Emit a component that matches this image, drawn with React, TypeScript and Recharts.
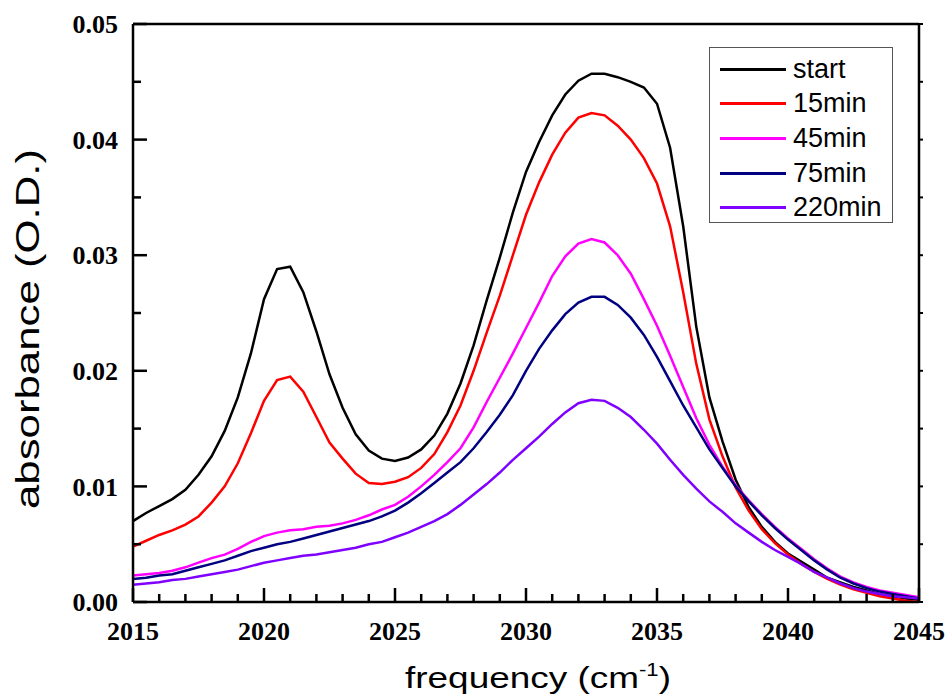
import React from 'react';
import { LineChart, Line, XAxis, YAxis, Legend } from 'recharts';

// wavenumber grid (cm-1)
const FREQ = [
  2015, 2015.5, 2016, 2016.5, 2017, 2017.5, 2018, 2018.5, 2019, 2019.5,
  2020, 2020.5, 2021, 2021.5, 2022, 2022.5, 2023, 2023.5, 2024, 2024.5,
  2025, 2025.5, 2026, 2026.5, 2027, 2027.5, 2028, 2028.5, 2029, 2029.5,
  2030, 2030.5, 2031, 2031.5, 2032, 2032.5, 2033, 2033.5, 2034, 2034.5,
  2035, 2035.5, 2036, 2036.5, 2037, 2037.5, 2038, 2038.5, 2039, 2039.5,
  2040, 2040.5, 2041, 2041.5, 2042, 2042.5, 2043, 2043.5, 2044, 2044.5,
  2045,
];

const START = [
  0.0070, 0.0077, 0.0083, 0.0089, 0.0097, 0.0110, 0.0126, 0.0148, 0.0177, 0.0215,
  0.0262, 0.0288, 0.0290, 0.0268, 0.0234, 0.0197, 0.0168, 0.0145, 0.0131, 0.0124,
  0.0122, 0.0125, 0.0132, 0.0144, 0.0163, 0.0189, 0.0222, 0.0261, 0.0298, 0.0337,
  0.0372, 0.0398, 0.0421, 0.0439, 0.0451, 0.0457, 0.0457, 0.0454, 0.0450, 0.0445,
  0.0431, 0.0393, 0.0325, 0.0238, 0.0177, 0.0139, 0.0106, 0.0082, 0.0065, 0.0052,
  0.0042, 0.0035, 0.0028, 0.0021, 0.0017, 0.0013, 0.0010, 0.0007, 0.0005, 0.0003,
  0.0002,
];

const MIN15 = [
  0.0048, 0.0053, 0.0058, 0.0062, 0.0067, 0.0074, 0.0086, 0.0100, 0.0120, 0.0146,
  0.0174, 0.0192, 0.0195, 0.0182, 0.0160, 0.0138, 0.0124, 0.0111, 0.0103, 0.0102,
  0.0104, 0.0108, 0.0116, 0.0128, 0.0147, 0.0170, 0.0200, 0.0233, 0.0265, 0.0300,
  0.0335, 0.0363, 0.0387, 0.0406, 0.0419, 0.0423, 0.0421, 0.0412, 0.0400, 0.0384,
  0.0362, 0.0325, 0.0268, 0.0206, 0.0158, 0.0126, 0.0099, 0.0079, 0.0063, 0.0051,
  0.0041, 0.0033, 0.0026, 0.0020, 0.0015, 0.0011, 0.0008, 0.0005, 0.0003, 0.0001,
  0.0000,
];

const MIN45 = [
  0.0023, 0.0024, 0.0025, 0.0027, 0.0030, 0.0034, 0.0038, 0.0041, 0.0046, 0.0052,
  0.0057, 0.0060, 0.0062, 0.0063, 0.0065, 0.0066, 0.0068, 0.0071, 0.0075, 0.0080,
  0.0084, 0.0091, 0.0100, 0.0110, 0.0121, 0.0133, 0.0151, 0.0173, 0.0194, 0.0215,
  0.0237, 0.0259, 0.0282, 0.0299, 0.0310, 0.0314, 0.0311, 0.0300, 0.0284, 0.0262,
  0.0239, 0.0213, 0.0186, 0.0159, 0.0136, 0.0117, 0.0101, 0.0088, 0.0076, 0.0065,
  0.0055, 0.0046, 0.0037, 0.0029, 0.0022, 0.0017, 0.0013, 0.0010, 0.0008, 0.0006,
  0.0004,
];

const MIN75 = [
  0.0020, 0.0021, 0.0023, 0.0024, 0.0027, 0.0030, 0.0033, 0.0036, 0.0040, 0.0044,
  0.0047, 0.0050, 0.0052, 0.0055, 0.0058, 0.0061, 0.0064, 0.0067, 0.0070, 0.0074,
  0.0079, 0.0086, 0.0094, 0.0103, 0.0112, 0.0121, 0.0133, 0.0147, 0.0162, 0.0179,
  0.0200, 0.0219, 0.0235, 0.0249, 0.0259, 0.0264, 0.0264, 0.0257, 0.0246, 0.0231,
  0.0212, 0.0191, 0.0170, 0.0151, 0.0132, 0.0116, 0.0100, 0.0087, 0.0075, 0.0064,
  0.0054, 0.0045, 0.0036, 0.0028, 0.0021, 0.0016, 0.0012, 0.0009, 0.0007, 0.0005,
  0.0003,
];

const MIN220 = [
  0.0015, 0.0016, 0.0017, 0.0019, 0.0020, 0.0022, 0.0024, 0.0026, 0.0028, 0.0031,
  0.0034, 0.0036, 0.0038, 0.0040, 0.0041, 0.0043, 0.0045, 0.0047, 0.0050, 0.0052,
  0.0056, 0.0060, 0.0065, 0.0070, 0.0076, 0.0084, 0.0093, 0.0102, 0.0112, 0.0123,
  0.0133, 0.0143, 0.0154, 0.0164, 0.0172, 0.0175, 0.0174, 0.0168, 0.0160, 0.0149,
  0.0137, 0.0123, 0.0110, 0.0098, 0.0087, 0.0078, 0.0068, 0.0060, 0.0052, 0.0045,
  0.0039, 0.0033, 0.0026, 0.0021, 0.0016, 0.0012, 0.0009, 0.0007, 0.0005, 0.0004,
  0.0003,
];

const SERIES = [
  { key: 'start', name: 'start', color: '#000000', values: START },
  { key: 'm15', name: '15min', color: '#ff0000', values: MIN15 },
  { key: 'm45', name: '45min', color: '#ff00ff', values: MIN45 },
  { key: 'm75', name: '75min', color: '#000080', values: MIN75 },
  { key: 'm220', name: '220min', color: '#8000ff', values: MIN220 },
];

const X_MAJOR = [2015, 2020, 2025, 2030, 2035, 2040, 2045];
const X_MINOR = [
  2015, 2016, 2017, 2018, 2019, 2020, 2021, 2022, 2023, 2024, 2025, 2026, 2027, 2028, 2029, 2030,
  2031, 2032, 2033, 2034, 2035, 2036, 2037, 2038, 2039, 2040, 2041, 2042, 2043, 2044, 2045,
];
const Y_MAJOR = [0, 0.01, 0.02, 0.03, 0.04, 0.05];
const Y_MINOR = [0, 0.005, 0.01, 0.015, 0.02, 0.025, 0.03, 0.035, 0.04, 0.045, 0.05];
const X_DOMAIN = [2015, 2045];
const Y_DOMAIN = [0, 0.05];

const data = FREQ.map((f, i) => {
  const row: Record<string, number> = { f };
  SERIES.forEach((s) => {
    row[s.key] = s.values[i];
  });
  return row;
});

const SERIF = "'Liberation Serif', 'Times New Roman', serif";
const SANS = "'Liberation Sans', Arial, sans-serif";
const AXIS_LINE = { stroke: '#000', strokeWidth: 2.5 };
const TICK_LINE = { stroke: '#000', strokeWidth: 2 };
const TICK_TEXT = { fill: '#000', fontSize: 26, fontWeight: 'bold', fontFamily: SERIF };
const MINOR_PX = 8;
const MAJOR_PX = 14;

const NoLabel = () => <g />;

// x title + inward ticks along the bottom axis (axis viewBox comes from recharts)
const XTitle = (props: any) => {
  const vb = props.viewBox ?? { x: 133, y: 602, width: 786, height: 94 };
  const span = X_DOMAIN[1] - X_DOMAIN[0];
  return (
    <g>
      {X_MINOR.map((v) => {
        const px = vb.x + ((v - X_DOMAIN[0]) / span) * vb.width;
        const len = X_MAJOR.includes(v) ? MAJOR_PX : MINOR_PX;
        return <line key={v} x1={px} x2={px} y1={vb.y} y2={vb.y - len} stroke="#000" strokeWidth={2.5} />;
      })}
      <text
        x={vb.x + vb.width / 2 + 12}
        y={vb.y + 86}
        textAnchor="middle"
        fontFamily={SANS}
        fontSize={30}
        fill="#000"
        textLength={266}
        lengthAdjust="spacingAndGlyphs"
      >
        frequency (cm
        <tspan fontSize={18} dy={-12}>-1</tspan>
        <tspan dy={12}>)</tspan>
      </text>
    </g>
  );
};

// y title + inward ticks along the left axis
const YTitle = (props: any) => {
  const vb = props.viewBox ?? { x: 0, y: 24, width: 133, height: 578 };
  const span = Y_DOMAIN[1] - Y_DOMAIN[0];
  const axisX = vb.x + vb.width;
  const cx = 39;
  const cy = vb.y + vb.height / 2 + 16;
  return (
    <g>
      {Y_MINOR.map((v) => {
        const py = vb.y + vb.height - ((v - Y_DOMAIN[0]) / span) * vb.height;
        const len = Y_MAJOR.includes(v) ? MAJOR_PX : MINOR_PX;
        return <line key={v} x1={axisX} x2={axisX + len} y1={py} y2={py} stroke="#000" strokeWidth={2.5} />;
      })}
      <text
        x={cx}
        y={cy}
        transform={`rotate(-90 ${cx} ${cy})`}
        textAnchor="middle"
        fontFamily={SANS}
        fontSize={34}
        fill="#000"
        textLength={360}
        lengthAdjust="spacingAndGlyphs"
      >
        absorbance (O.D.)
      </text>
    </g>
  );
};

// legend keeps the series order of the plot
const LegendBox = () => (
  <div
    style={{
      width: 184,
      height: 176,
      paddingTop: 4,
      boxSizing: 'border-box',
      border: '1px solid #555',
      background: '#fff',
    }}
  >
    {SERIES.map((s) => (
      <div key={s.key} style={{ display: 'flex', alignItems: 'center', height: 34.6 }}>
        <div style={{ width: 66, borderTop: `3px solid ${s.color}`, marginLeft: 10, marginRight: 7 }} />
        <span style={{ fontFamily: SANS, fontSize: 27, lineHeight: 1, color: '#000' }}>{s.name}</span>
      </div>
    ))}
  </div>
);

export default function App() {
  return (
    <div style={{ position: 'fixed', left: 0, top: 0, width: 949, height: 696, background: '#fff' }}>
      <LineChart width={949} height={696} data={data} margin={{ top: 20, right: 26, bottom: 0, left: 0 }}>
        <XAxis
          xAxisId="x"
          dataKey="f"
          type="number"
          domain={X_DOMAIN}
          allowDataOverflow
          ticks={X_MAJOR}
          interval={0}
          height={94}
          tickSize={0}
          tickMargin={20}
          axisLine={AXIS_LINE}
          tickLine={false}
          tick={TICK_TEXT}
          label={<XTitle />}
        />
        {/* top frame */}
        <XAxis xAxisId="xTop" orientation="top" type="number" domain={X_DOMAIN} allowDataOverflow ticks={X_MINOR}
          interval={0} height={4} tickSize={4} tick={NoLabel} axisLine={AXIS_LINE} tickLine={TICK_LINE} />

        <YAxis
          yAxisId="y"
          type="number"
          domain={Y_DOMAIN}
          allowDataOverflow
          ticks={Y_MAJOR}
          interval={0}
          width={133}
          tickSize={0}
          tickMargin={15}
          tickFormatter={(v: number) => v.toFixed(2)}
          axisLine={AXIS_LINE}
          tickLine={false}
          tick={TICK_TEXT}
          label={<YTitle />}
        />
        {/* right frame */}
        <YAxis yAxisId="yRight" orientation="right" type="number" domain={Y_DOMAIN} allowDataOverflow ticks={Y_MINOR}
          interval={0} width={4} tickSize={4} tick={NoLabel} axisLine={AXIS_LINE} tickLine={TICK_LINE} />

        <Legend
          layout="horizontal"
          align="center"
          verticalAlign="middle"
          content={<LegendBox />}
          wrapperStyle={{ left: 709, top: 47, width: 184, height: 176 }}
        />

        {SERIES.map((s) => (
          <Line
            key={s.key}
            xAxisId="x"
            yAxisId="y"
            type="linear"
            dataKey={s.key}
            name={s.name}
            stroke={s.color}
            strokeWidth={2.5}
            dot={false}
            activeDot={false}
            isAnimationActive={false}
          />
        ))}
      </LineChart>
    </div>
  );
}
